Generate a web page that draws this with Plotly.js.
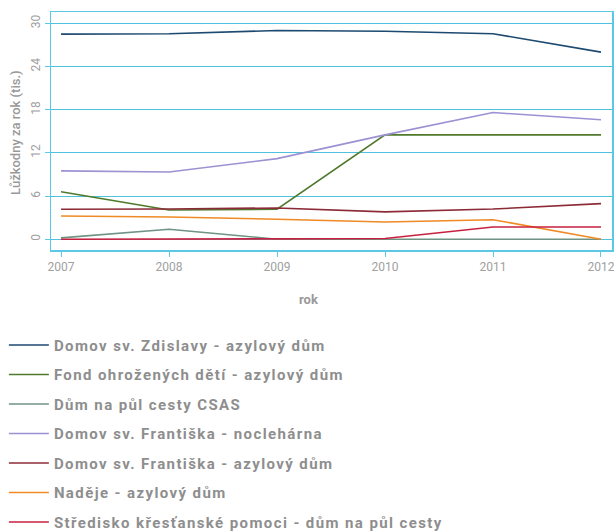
<!DOCTYPE html>
<html><head><meta charset="utf-8">
<script src="https://cdn.plot.ly/plotly-3.0.1.min.js"></script>
<style>
body{margin:0;padding:0;background:#fff;}
#chart{width:614px;height:531px;}
.legendtext{letter-spacing:1.4px;}
</style>
</head><body>
<div id="chart"></div>
<script>
const years = [2007, 2008, 2009, 2010, 2011, 2012];
const seriesNames = [
  "Domov sv. Zdislavy - azylový dům",
  "Fond ohrožených dětí - azylový dům",
  "Dům na půl cesty CSAS",
  "Domov sv. Františka - noclehárna",
  "Domov sv. Františka - azylový dům",
  "Naděje - azylový dům",
  "Středisko křesťanské pomoci - dům na půl cesty"
];
const zdislavy = [28.5, 28.55, 29.0, 28.9, 28.55, 26.0];
const fond = [6.6, 4.07, 4.17, 14.5, 14.5, 14.5];
const csas = [0.2, 1.4, 0.0, 0.0, 0.0, 0.0];
const nocleharna = [9.5, 9.35, 11.2, 14.5, 17.6, 16.6];
const frantiskaAzyl = [4.17, 4.2, 4.35, 3.8, 4.2, 4.95];
const nadeje = [3.24, 3.1, 2.78, 2.4, 2.72, 0.0];
const stredisko = [0.0, 0.0, 0.0, 0.1, 1.7, 1.7];
const seriesValues = [zdislavy, fond, csas, nocleharna, frantiskaAzyl, nadeje, stredisko];
const colors = ["#1c4a70", "#4f7a2c", "#6f9384", "#9d91d2", "#8c2b37", "#f08a24", "#c8213f"];
const yTicks = [0, 6, 12, 18, 24, 30];
const xTitle = 'rok';
const yTitle = 'Lůžkodny za rok (tis.)';

const traces = seriesNames.map((n, i) => ({
  x: years, y: seriesValues[i], name: n, type: 'scatter', mode: 'lines',
  line: {color: colors[i], width: 1.6}, legendgroup: 'g' + i
}));

const axisColor = '#5cc8e6';
const layout = {
  width: 614, height: 531,
  margin: {l: 51, r: 2, t: 12, b: 281},
  paper_bgcolor: '#fff', plot_bgcolor: '#fff',
  font: {family: 'Roboto, sans-serif', color: '#999'},
  xaxis: {
    range: [2006.907, 2012.102], tickvals: years, ticktext: years.map(String),
    showgrid: false, zeroline: false, showline: true, linecolor: axisColor, linewidth: 1.5,
    mirror: true, ticks: 'outside', ticklen: 5, tickcolor: axisColor, ticklabeloverflow: 'allow',
    tickfont: {size: 12, color: '#a0a0a0'}
  },
  yaxis: {
    range: [-1.49, 31.57], tickvals: yTicks, ticktext: yTicks.map(String), tickangle: -90,
    showgrid: true, gridcolor: '#50c2e0', gridwidth: 1, zeroline: false,
    showline: true, linecolor: axisColor, linewidth: 1.5, mirror: true,
    ticks: 'outside', ticklen: 5, tickcolor: axisColor,
    tickfont: {size: 12, color: '#a0a0a0'}
  },
  annotations: [{
    text: xTitle, xref: 'paper', yref: 'paper', x: 0.46, y: -0.21,
    xanchor: 'center', yanchor: 'middle', showarrow: false,
    font: {size: 13, color: '#999', weight: 'bold'}
  }, {
    text: yTitle, xref: 'paper', yref: 'paper', x: -0.0624, y: 0.492, textangle: -90,
    xanchor: 'center', yanchor: 'middle', showarrow: false,
    font: {size: 13, color: '#999', weight: 500}
  }],
  showlegend: true,
  legend: {
    orientation: 'v', xref: 'paper', yref: 'container', x: -0.084, y: 0.381,
    xanchor: 'left', yanchor: 'top', tracegroupgap: 7, itemwidth: 40,
    font: {size: 15, color: '#8e8e8e', weight: 'bold'}, bgcolor: 'rgba(0,0,0,0)'
  }
};
Plotly.newPlot('chart', traces, layout, {displayModeBar: false, staticPlot: true});
</script>
</body></html>
